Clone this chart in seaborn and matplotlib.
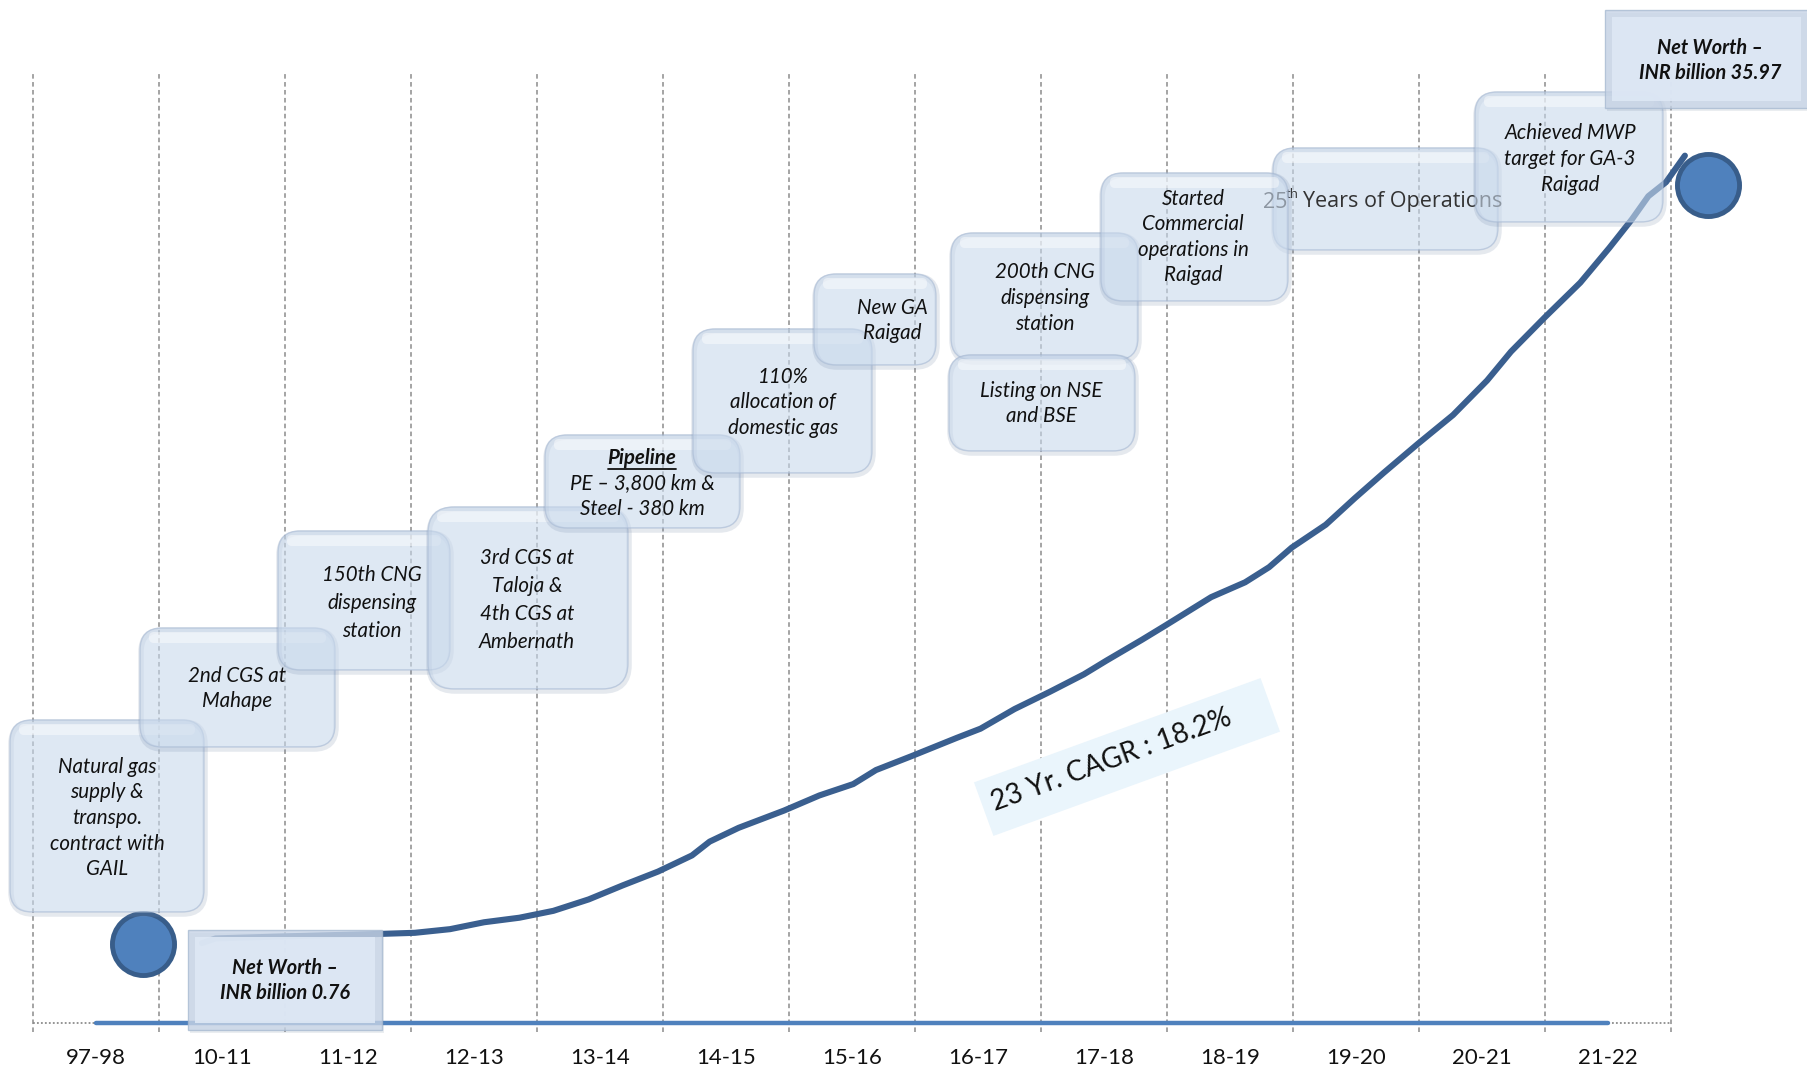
import numpy as np
import pandas as pd
import matplotlib
matplotlib.use("Agg")
import matplotlib.pyplot as plt
import seaborn as sns
from matplotlib.patches import FancyBboxPatch, Polygon

# ---------------- data ----------------
years = ["97-98", "10-11", "11-12", "12-13", "13-14", "14-15", "15-16",
         "16-17", "17-18", "18-19", "19-20", "20-21", "21-22"]

# net-worth trajectory (INR billion); x measured in year-slot units
curve_x = [0.84, 0.95, 1.53, 2.26, 2.53, 2.81, 3.08, 3.36, 3.63, 3.91, 4.18,
           4.46, 4.73, 4.87, 5.10, 5.46, 5.74, 6.01, 6.19, 6.47, 6.83, 7.02,
           7.29, 7.57, 7.84, 8.02, 8.30, 8.48, 8.85, 9.12, 9.31, 9.49, 9.76,
           9.99, 10.22, 10.49, 10.77, 11.04, 11.23, 11.50, 11.78, 12.01,
           12.19, 12.32, 12.46, 12.61]
curve_nw = [0.80, 1.02, 1.12, 1.23, 1.28, 1.45, 1.77, 1.98, 2.30, 2.83, 3.48,
            4.12, 4.87, 5.51, 6.15, 6.95, 7.65, 8.18, 8.83, 9.47, 10.32, 10.75,
            11.66, 12.46, 13.27, 13.91, 14.87, 15.51, 16.85, 17.54, 18.24,
            19.15, 20.21, 21.44, 22.62, 23.96, 25.30, 26.90, 28.24, 29.84,
            31.44, 33.05, 34.38, 35.45, 36.10, 37.33]

start_nw = 0.76
end_nw = 35.97
marker_x = [0.37, 12.79]
marker_nw = [start_nw, end_nw]

cagr_label = "23 Yr. CAGR : 18.2%"

milestones = [
    ["Natural gas", "supply &", "transpo.", "contract with", "GAIL"],
    ["2nd CGS at", "Mahape"],
    ["150th CNG", "dispensing", "station"],
    ["3rd CGS at", "Taloja &", "4th CGS at", "Ambernath"],
    ["Pipeline", "PE \u2013 3,800 km &", "Steel - 380 km"],
    ["110%", "allocation of", "domestic gas"],
    ["New GA", "Raigad"],
    ["200th CNG", "dispensing", "station"],
    ["Listing on NSE", "and BSE"],
    ["Started", "Commercial", "operations in", "Raigad"],
    ["Achieved MWP", "target for GA-3", "Raigad"],
]
start_label = ["Net Worth \u2013", f"INR billion {start_nw:.2f}"]
end_label = ["Net Worth \u2013", f"INR billion {end_nw:.2f}"]

# ---------------- layout (pixels, origin top-left) ----------------
W, H = 1808, 1071
milestone_boxes = [  # x0, y0, x1, y1
    (10, 720, 204, 912), (140, 628, 335, 747), (278, 531, 450, 670),
    (428, 507, 628, 689), (545, 435, 740, 528), (693, 329, 872, 473),
    (814, 274, 936, 365), (951, 233, 1138, 360), (949, 355, 1135, 451),
    (1101, 173, 1288, 301), (1475, 92, 1663, 222),
]
milestone_text = [  # centre x, first line y, line step
    (107, 767, 25.5), (237, 676, 25.4), (372, 575, 28.0), (527, 558, 28.0),
    (642, 458, 25.5), (783, 377, 25.4), (892, 308, 25.4), (1045, 272, 26.0),
    (1041, 391, 25.4), (1193, 199, 25.4), (1570, 133, 26.0),
]
years_box = (1273, 148, 1498, 250)
start_box, start_text = (188, 930, 382, 1030), (285, 968, 25.0)
end_box, end_text = (1605, 10, 1808, 108), (1710, 48, 25.0)

sns.set_style("white")
plt.rcParams["font.family"] = ["Lato", "DejaVu Sans"]

fig = plt.figure(figsize=(W / 100, H / 100), dpi=100)

# main axes in data units: x = year slot, y = net worth (INR billion)
ax = fig.add_axes([0, 0, 1, 1])
ax.set_xlim(-0.762, 13.587)
ax.set_ylim(-5.13, 44.55)

n = len(years)
for i in range(n + 1):
    ax.plot([i - 0.5, i - 0.5], [-3.31, 41.1], ls=(0, (3, 2.2)),
            color="#8c8c8c", lw=1.1, zorder=1)

base_y = -2.90
ax.plot([-0.5, 0], [base_y, base_y], ls=(0, (1, 1.2)), color="#8c8c8c",
        lw=1.3, zorder=2)
ax.plot([n - 1, n - 0.5], [base_y, base_y], ls=(0, (1, 1.2)),
        color="#8c8c8c", lw=1.3, zorder=2)
ax.plot([0, n - 1], [base_y, base_y], color="#4f81bd", lw=3.2,
        solid_capstyle="round", zorder=2)

df = pd.DataFrame({"slot": curve_x, "net_worth": curve_nw})
sns.lineplot(data=df, x="slot", y="net_worth", sort=False, estimator=None,
             color="#3a5f8f", lw=4.4, ax=ax, zorder=3)
sns.scatterplot(x=marker_x, y=marker_nw, s=2000, color="#4f81bd",
                edgecolor="#385d8a", linewidth=3.5, ax=ax, zorder=4)

for i, lab in enumerate(years):
    ax.text(i, -4.53, lab, ha="center", va="center", fontsize=16,
            color="#111111")
ax.axis("off")

# overlay axes in pixel units for the milestone call-outs
ov = fig.add_axes([0, 0, 1, 1], zorder=5)
ov.set_xlim(0, W)
ov.set_ylim(H, 0)
ov.axis("off")
ov.patch.set_alpha(0)

FACE = (0.79, 0.85, 0.925)


def rounded_box(b, r=20, z=2):
    x0, y0, x1, y1 = b
    w, h = x1 - x0, y1 - y0
    style = f"round,pad=0,rounding_size={r}"
    # soft rim
    ov.add_patch(FancyBboxPatch((x0 + 1, y0 + 2), w, h, boxstyle=style,
                                fill=False, ec=(0.45, 0.53, 0.65), lw=4.0,
                                alpha=0.18, zorder=z))
    ov.add_patch(FancyBboxPatch((x0, y0), w, h, boxstyle=style, fc=FACE,
                                alpha=0.6, ec=(0.66, 0.73, 0.83), lw=1.0,
                                zorder=z))
    ov.add_patch(FancyBboxPatch((x0 + 9, y0 + 4), w - 18, 11,
                                boxstyle="round,pad=0,rounding_size=5",
                                fc="white", alpha=0.45, ec="none", zorder=z))


def bevel_box(b, z=2):
    x0, y0, x1, y1 = b
    w, h = x1 - x0, y1 - y0
    ov.add_patch(FancyBboxPatch((x0 + 2, y0 + 3), w, h,
                                boxstyle="square,pad=0", fc=(0.35, 0.42, 0.52),
                                alpha=0.12, ec="none", zorder=z))
    ov.add_patch(FancyBboxPatch((x0, y0), w, h, boxstyle="square,pad=0",
                                fc=(0.78, 0.83, 0.90), alpha=0.8,
                                ec=(0.66, 0.73, 0.82), lw=1.0, zorder=z))
    ov.add_patch(FancyBboxPatch((x0 + 7, y0 + 7), w - 14, h - 14,
                                boxstyle="square,pad=0", fc=(0.87, 0.91, 0.96),
                                alpha=0.9, ec="none", zorder=z))


def box_lines(lines, spec, z, weight="normal", size=14.8):
    cx, y, step = spec
    objs = []
    for k, line in enumerate(lines):
        objs.append(ov.text(cx, y + k * step, line, ha="center", va="center",
                            fontsize=size, style="italic", weight=weight,
                            color="#111111", zorder=z))
    return objs


pipeline_txt = None
for k, (b, lines, spec) in enumerate(zip(milestone_boxes, milestones,
                                          milestone_text)):
    z = 10 + 2 * k
    if k == 9:
        z = 34
    if k == 10:
        z = 36
    rounded_box(b, r=22 if k != 3 else 26, z=z)
    if k == 4:
        t = box_lines(lines, spec, z + 1)
        t[0].set_weight("bold")
        pipeline_txt = t[0]
    else:
        box_lines(lines, spec, z + 1)

# 25th-year call-out: text sits under the neighbouring boxes
gothic = ["Open Sans", "DejaVu Sans"]
rounded_box(years_box, r=22, z=31)
ov.text(1263, 202, "25", ha="left", va="center", fontsize=15.5,
        family=gothic, color="#333333", zorder=32)
ov.text(1286, 194, "th", ha="left", va="center", fontsize=9.5,
        family=gothic, color="#333333", zorder=32)
ov.text(1303, 202, "Years of Operations", ha="left", va="center",
        fontsize=15.5, family=gothic, color="#333333", zorder=32)

bevel_box(start_box, z=40)
box_lines(start_label, start_text, 41, weight="bold", size=14.3)
bevel_box(end_box, z=40)
box_lines(end_label, end_text, 41, weight="bold", size=14.3)

# growth-rate banner
cx, cy, bw, bh, ang = 1127, 757, 305, 57, 20
th = np.deg2rad(ang)
u = np.array([np.cos(th), -np.sin(th)])
v = np.array([np.sin(th), np.cos(th)])
c = np.array([cx, cy])
corners = [c - u * bw / 2 - v * bh / 2, c + u * bw / 2 - v * bh / 2,
           c + u * bw / 2 + v * bh / 2, c - u * bw / 2 + v * bh / 2]
ov.add_patch(Polygon(corners, closed=True, fc="#eaf5fc", ec="none", zorder=8))
ov.text(1111, 760, cagr_label, rotation=ang, rotation_mode="anchor",
        ha="center", va="center", fontsize=20, color="#111111", zorder=9)

# underline for the pipeline heading
fig.canvas.draw()
bb = pipeline_txt.get_window_extent()
ov.plot([bb.x0, bb.x1], [H - bb.y0 + 1, H - bb.y0 + 1], color="#111111",
        lw=1.3, zorder=pipeline_txt.get_zorder())

fig.savefig("out.png", dpi=100)
